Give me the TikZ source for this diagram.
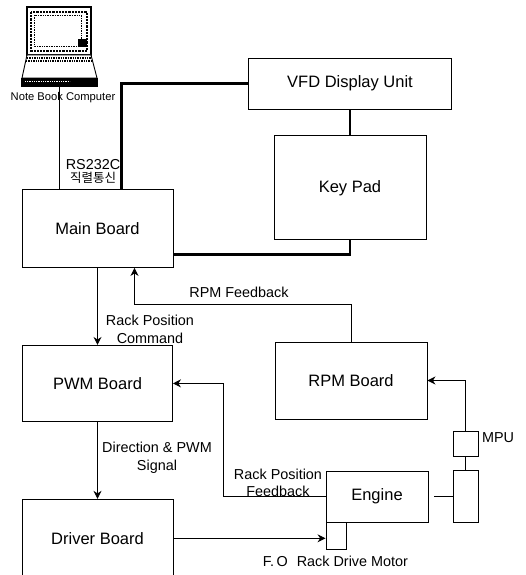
\documentclass[tikz,border=0pt]{standalone}
\usepackage{fontspec}
\setmainfont{Liberation Sans}
\newfontfamily\krfont{Noto Sans CJK KR}
\usetikzlibrary{arrows.meta,positioning}

\begin{document}
\begin{tikzpicture}[x=1pt,y=-1pt,>={Stealth[length=8pt,width=8pt]},
  st/.style={draw,line width=0.9pt,align=center,font=\fontsize{16.5}{18}\selectfont,inner sep=0pt},
  art/.style={align=center,font=\fontsize{14.4}{17.5}\selectfont,inner sep=0pt},
  arr/.style={->,line width=0.9pt},
  lnk/.style={line width=0.9pt},
  bus/.style={line width=2.4pt}]
\useasboundingbox (0,0) rectangle (526,575);
\clip (0,0) rectangle (526,575);
% boards
\node[st,minimum width=151pt,minimum height=78pt] (mb) at (97.5,228.5) {Main Board};
\node[st,minimum width=150pt,minimum height=76pt,below=77pt of mb] (pwm) {PWM Board};
\node[st,minimum width=151pt,minimum height=78pt,below=77pt of pwm] (drv) {Driver Board};
\node[st,minimum width=203pt,minimum height=51pt] (vfd) at (350,83.5) {VFD Display Unit};
\node[st,minimum width=152pt,minimum height=104pt,below=26pt of vfd] (key) {Key Pad};
\node[st,minimum width=152pt,minimum height=77pt] (rpm) at (351,380.5) {RPM Board};
\node[st,minimum width=102pt,minimum height=51pt] (eng) at (377,496.5) {Engine};
\node[st,minimum width=25pt,minimum height=52pt] (shaft) at (465.5,496) {};
\node[st,minimum width=25pt,minimum height=25pt,above=13pt of shaft] (mpu) {};
\node[st,minimum width=20pt,minimum height=27pt] (mot) at (336,535.5) {};
% note book computer
\node[draw,fill=black,minimum width=76pt,minimum height=8pt,inner sep=0pt] (nb) at (59,82) {};
\draw[white,line width=0.8pt,densely dotted] (25,81) -- (70,81);
\draw[line width=1.6pt] (27,7) rectangle (91,55);
\draw[line width=2.2pt,densely dotted] (31,12) rectangle (87,51);
\draw[line width=0.7pt,densely dotted] (34,15) rectangle (81,46);
\fill (78,39) rectangle (87,47);
\draw[line width=0.9pt,fill=white] (27,55) -- (91,55) -- (97,78) -- (22,78) -- cycle;
\draw[line width=1.4pt,densely dotted] (27,58) -- (91,58) (26,61) -- (92,61);
% connectors
\draw[lnk] (nb.south) -- (nb.south |- mb.north);
\draw[bus] (vfd.west) -| ([xshift=24pt]mb.north);
\draw[bus] (vfd.south) -- (key.north);
\draw[bus] (key.south) |- ([yshift=-14pt]key.south -| mb.east);
\draw[arr] (mb.south) -- (pwm.north);
\draw[arr] (pwm.south) -- (drv.north);
\draw[arr] (rpm.north) -- ++(0,-37.5) -| ([xshift=37pt]mb.south);
\draw[arr] (mpu.north) |- (rpm.east);
\draw[lnk] (mpu.south) -- (shaft.north);
\draw[lnk] ([xshift=6pt]eng.east) -- (eng.east -| shaft.west);
\draw[arr] (eng.west) -- ++(-102,0) |- (pwm.east);
\draw[arr] (drv.east) -- (drv.east -| mot.west);
% labels
\node[font=\fontsize{11.2}{13}\selectfont,inner sep=0pt] (nbl) at (63,98) {Note Book Computer};
\node[art] (rsl) at (93,165) {RS232C};
\node[font=\fontsize{12.5}{13}\krfont\selectfont,inner sep=0pt,below=2pt of rsl] (krl) {직렬통신};
\node[art] (fbl) at (239,292) {RPM Feedback};
\node[art] (cmdl) at (150,329.5) {Rack Position\\Command};
\node[art] (dirl) at (157,458) {Direction \& PWM\\Signal};
\node[art] (rfbl) at (278,483) {Rack Position\\Feedback};
\node[art] (mpul) at (498,438) {MPU};
\node[art] (fol) at (335.5,561) {F.\,O\hspace{5pt} Rack Drive Motor};
\end{tikzpicture}
\end{document}
